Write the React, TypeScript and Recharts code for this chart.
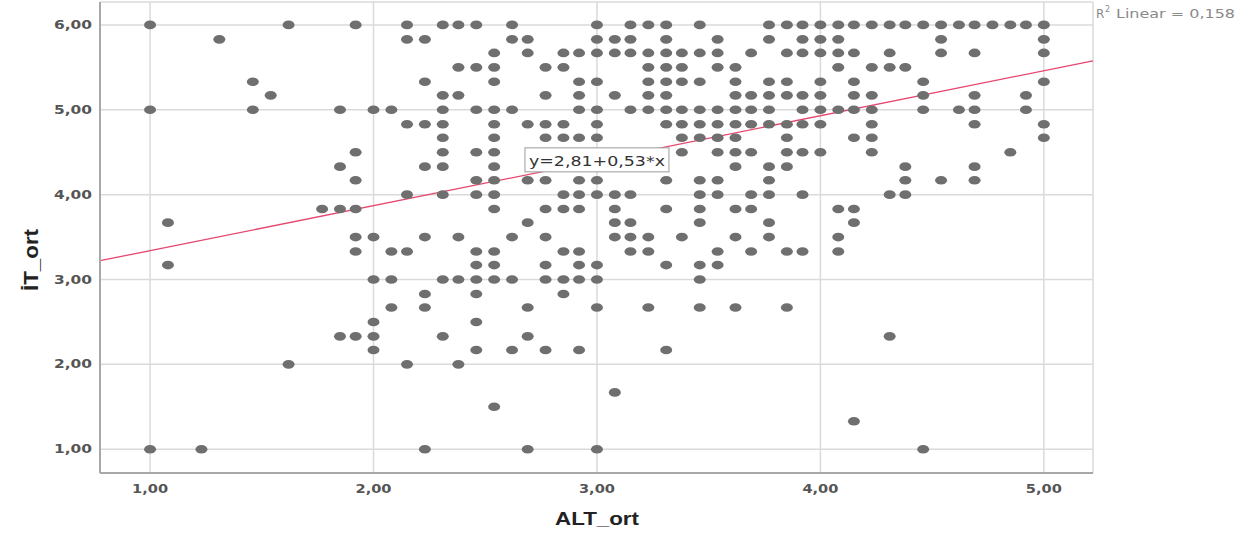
import React from "react";
import {
  ScatterChart,
  Scatter,
  XAxis,
  YAxis,
  CartesianGrid,
  ReferenceLine,
  ReferenceDot,
} from "recharts";

// İT_ort levels (rows of the scatter) and the ALT_ort values found on each row
const IT_LEVELS = [
  6.0, 5.83, 5.67, 5.5, 5.33, 5.17, 5.0, 4.83, 4.67, 4.5, 4.33, 4.17, 4.0, 3.83,
  3.67, 3.5, 3.33, 3.17, 3.0, 2.83, 2.67, 2.5, 2.33, 2.17, 2.0, 1.67, 1.5, 1.33, 1.0,
];

const ALT_AT_600 = [1.0, 1.62, 1.92, 2.15, 2.31, 2.38, 2.46, 2.62, 3.0, 3.15, 3.23, 3.31, 3.46, 3.77, 3.85, 3.92, 4.0, 4.08, 4.15, 4.23, 4.31, 4.38, 4.46, 4.54, 4.62, 4.69, 4.77, 4.85, 4.92, 5.0];
const ALT_AT_583 = [1.31, 2.15, 2.23, 2.62, 2.69, 3.0, 3.08, 3.15, 3.31, 3.54, 3.77, 3.92, 4.0, 4.08, 4.54, 5.0];
const ALT_AT_567 = [2.54, 2.69, 2.85, 2.92, 3.0, 3.08, 3.15, 3.23, 3.31, 3.38, 3.46, 3.54, 3.69, 3.85, 3.92, 4.0, 4.08, 4.15, 4.31, 4.54, 4.69, 5.0];
const ALT_AT_550 = [2.38, 2.46, 2.54, 2.77, 2.85, 3.23, 3.31, 3.38, 3.54, 3.62, 4.08, 4.23, 4.31, 4.38];
const ALT_AT_533 = [1.46, 2.23, 2.54, 2.92, 3.0, 3.23, 3.31, 3.38, 3.46, 3.62, 3.77, 3.85, 4.0, 4.15, 4.46, 5.0];
const ALT_AT_517 = [1.54, 2.31, 2.38, 2.77, 2.92, 3.08, 3.23, 3.31, 3.62, 3.69, 3.77, 3.85, 3.92, 4.0, 4.15, 4.23, 4.46, 4.69, 4.92];
const ALT_AT_500 = [1.0, 1.46, 1.85, 2.0, 2.08, 2.31, 2.46, 2.54, 2.62, 2.92, 3.0, 3.15, 3.23, 3.31, 3.38, 3.46, 3.54, 3.62, 3.69, 3.77, 3.92, 4.0, 4.08, 4.15, 4.23, 4.46, 4.62, 4.69, 4.92];
const ALT_AT_483 = [2.15, 2.23, 2.31, 2.54, 2.69, 2.77, 2.85, 3.0, 3.31, 3.38, 3.46, 3.54, 3.62, 3.69, 3.77, 3.85, 3.92, 4.0, 4.23, 4.69, 5.0];
const ALT_AT_467 = [2.31, 2.54, 2.77, 2.85, 2.92, 3.0, 3.38, 3.46, 3.54, 3.62, 3.85, 4.15, 4.23, 5.0];
const ALT_AT_450 = [1.92, 2.31, 2.46, 2.54, 3.38, 3.54, 3.62, 3.69, 3.85, 3.92, 4.0, 4.23, 4.85];
const ALT_AT_433 = [1.85, 2.23, 2.31, 2.54, 3.62, 3.77, 3.85, 4.38, 4.69];
const ALT_AT_417 = [1.92, 2.46, 2.54, 2.69, 2.77, 2.92, 3.0, 3.31, 3.46, 3.54, 3.77, 4.38, 4.54, 4.69];
const ALT_AT_400 = [2.15, 2.31, 2.46, 2.54, 2.85, 2.92, 3.0, 3.08, 3.15, 3.46, 3.54, 3.69, 3.77, 3.92, 4.31, 4.38];
const ALT_AT_383 = [1.77, 1.85, 1.92, 2.54, 2.77, 2.85, 2.92, 3.08, 3.31, 3.46, 3.62, 3.69, 4.08, 4.15];
const ALT_AT_367 = [1.08, 2.69, 3.08, 3.15, 3.46, 3.77, 4.15];
const ALT_AT_350 = [1.92, 2.0, 2.23, 2.38, 2.62, 2.77, 3.08, 3.15, 3.23, 3.38, 3.62, 3.77, 4.08];
const ALT_AT_333 = [1.92, 2.08, 2.15, 2.46, 2.54, 2.85, 2.92, 3.15, 3.23, 3.54, 3.69, 3.85, 3.92, 4.08];
const ALT_AT_317 = [1.08, 2.46, 2.54, 2.77, 2.92, 3.0, 3.31, 3.46, 3.54];
const ALT_AT_300 = [2.0, 2.08, 2.31, 2.38, 2.46, 2.54, 2.62, 2.77, 2.85, 2.92, 3.0, 3.46];
const ALT_AT_283 = [2.23, 2.46, 2.85];
const ALT_AT_267 = [2.08, 2.23, 2.69, 3.0, 3.23, 3.46, 3.62, 3.85];
const ALT_AT_250 = [2.0, 2.46];
const ALT_AT_233 = [1.85, 1.92, 2.0, 2.31, 2.69, 4.31];
const ALT_AT_217 = [2.0, 2.46, 2.62, 2.77, 2.92, 3.31];
const ALT_AT_200 = [1.62, 2.15, 2.38];
const ALT_AT_167 = [3.08];
const ALT_AT_150 = [2.54];
const ALT_AT_133 = [4.15];
const ALT_AT_100 = [1.0, 1.23, 2.23, 2.69, 3.0, 4.46];

const ALT_BY_LEVEL = [
  ALT_AT_600, ALT_AT_583, ALT_AT_567, ALT_AT_550, ALT_AT_533, ALT_AT_517,
  ALT_AT_500, ALT_AT_483, ALT_AT_467, ALT_AT_450, ALT_AT_433, ALT_AT_417,
  ALT_AT_400, ALT_AT_383, ALT_AT_367, ALT_AT_350, ALT_AT_333, ALT_AT_317,
  ALT_AT_300, ALT_AT_283, ALT_AT_267, ALT_AT_250, ALT_AT_233, ALT_AT_217,
  ALT_AT_200, ALT_AT_167, ALT_AT_150, ALT_AT_133, ALT_AT_100,
];

const X_TICKS = [1, 2, 3, 4, 5];
const Y_TICKS = [1, 2, 3, 4, 5, 6];
const X_DOMAIN: [number, number] = [0.776, 5.22];
const Y_DOMAIN: [number, number] = [0.72, 6.27];

// linear fit reported by SPSS
const FIT_INTERCEPT = 2.81;
const FIT_SLOPE = 0.53;
const FIT_R2 = "0,158";
const FIT_LABEL = "y=2,81+0,53*x";
const FIT_LABEL_AT = { x: 3.0, y: 4.41 };

const points = IT_LEVELS.flatMap((it, i) =>
  ALT_BY_LEVEL[i].map((alt) => ({ alt, it }))
);

const fmt = (v: number) => v.toFixed(2).replace(".", ",");

const Dot = (props: any) => (
  <ellipse cx={props.cx} cy={props.cy} rx={6} ry={4.3} fill="#6f6f6f" />
);

const YTick = ({ x, y, payload }: any) => (
  <text
    x={x}
    y={y}
    textAnchor="end"
    dominantBaseline="central"
    fontFamily="DejaVu Sans"
    fontSize={12}
    fontWeight="bold"
    fill="#555"
    textLength={38}
    lengthAdjust="spacingAndGlyphs"
  >
    {fmt(payload.value)}
  </text>
);

const XTick = ({ x, y, payload }: any) => (
  <text
    x={x}
    y={y + 8}
    textAnchor="middle"
    dominantBaseline="central"
    fontFamily="DejaVu Sans"
    fontSize={12}
    fontWeight="bold"
    fill="#555"
    textLength={36}
    lengthAdjust="spacingAndGlyphs"
  >
    {fmt(payload.value)}
  </text>
);

const FitLabel = ({ cx, cy }: any) => (
  <g>
    <rect x={cx - 72} y={cy - 12} width={144} height={24} fill="#fff" stroke="#9a9a9a" strokeWidth={1} />
    <text
      x={cx}
      y={cy + 1}
      textAnchor="middle"
      dominantBaseline="central"
      fontFamily="DejaVu Sans"
      fontSize={14}
      fill="#333"
      textLength={136}
      lengthAdjust="spacingAndGlyphs"
    >
      {FIT_LABEL}
    </text>
  </g>
);

export default function App() {
  return (
    <div style={{ position: "absolute", left: 0, top: 0, width: 1253, height: 533, background: "#fff" }}>
      <ScatterChart
        width={1253}
        height={533}
        margin={{ top: 2, right: 160, bottom: 0, left: 0 }}
      >
        <CartesianGrid stroke="#dadada" strokeWidth={1.5} />
        <XAxis
          type="number"
          dataKey="alt"
          domain={X_DOMAIN}
          ticks={X_TICKS}
          allowDataOverflow
          height={60}
          tickLine={false}
          tick={<XTick />}
          axisLine={{ stroke: "#a8a8a8", strokeWidth: 2 }}
        />
        <YAxis
          type="number"
          dataKey="it"
          domain={Y_DOMAIN}
          ticks={Y_TICKS}
          allowDataOverflow
          width={100}
          tickLine={false}
          tick={<YTick />}
          axisLine={{ stroke: "#a8a8a8", strokeWidth: 2 }}
        />
        <Scatter data={points} shape={<Dot />} isAnimationActive={false} />
        <ReferenceLine
          segment={[
            { x: X_DOMAIN[0], y: FIT_INTERCEPT + FIT_SLOPE * X_DOMAIN[0] },
            { x: X_DOMAIN[1], y: FIT_INTERCEPT + FIT_SLOPE * X_DOMAIN[1] },
          ]}
          stroke="#e5476d"
          strokeWidth={1.3}
        />
        <ReferenceDot x={FIT_LABEL_AT.x} y={FIT_LABEL_AT.y} r={0} shape={(p: any) => <FitLabel {...p} />} />
      </ScatterChart>
      <svg width={1253} height={533} style={{ position: "absolute", left: 0, top: 0, pointerEvents: "none" }}>
        <text
          x={597}
          y={525}
          textAnchor="middle"
          fontFamily="Liberation Sans"
          fontWeight="bold"
          fontSize={19}
          fill="#222"
          textLength={84}
          lengthAdjust="spacingAndGlyphs"
        >
          ALT_ort
        </text>
        <text
          transform="translate(38 260) rotate(-90)"
          textAnchor="middle"
          fontFamily="Liberation Sans"
          fontWeight="bold"
          fontSize={20}
          fill="#222"
          textLength={62}
          lengthAdjust="spacingAndGlyphs"
        >
          İT_ort
        </text>
        <text x={1096} y={18} fontFamily="DejaVu Sans" fontSize={12} fill="#8a8a8a">
          R
        </text>
        <text x={1105} y={12} fontFamily="DejaVu Sans" fontSize={8} fill="#8a8a8a">
          2
        </text>
        <text
          x={1116}
          y={18}
          fontFamily="DejaVu Sans"
          fontSize={12}
          fill="#8a8a8a"
          textLength={119}
          lengthAdjust="spacingAndGlyphs"
        >
          {`Linear = ${FIT_R2}`}
        </text>
      </svg>
    </div>
  );
}
